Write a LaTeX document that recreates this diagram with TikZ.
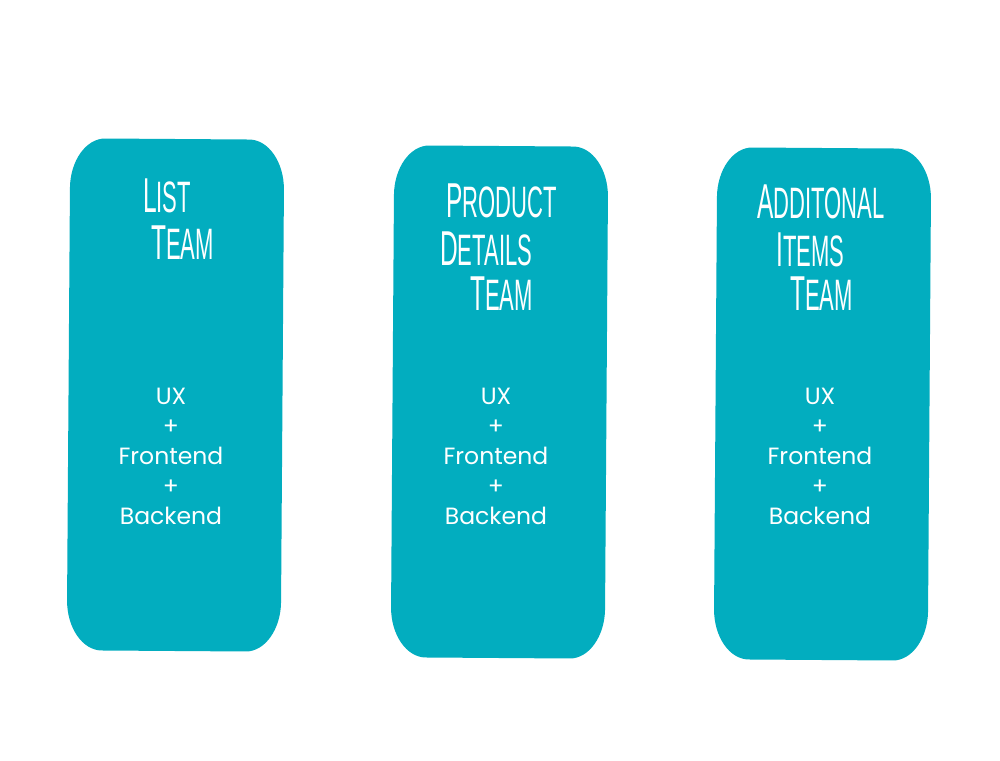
\documentclass[tikz,border=0pt]{standalone}
\usepackage{fontspec}
\setmainfont{Poppins}
\newfontfamily\handfont[FakeStretch=0.5]{Liberation Sans}
\definecolor{teal}{RGB}{2,173,191}
\newcommand\hsc[2]{{\handfont\fontsize{49}{49}\selectfont #1\fontsize{44}{44}\selectfont #2}}
\tikzset{
  boxfill/.style={fill=teal,draw=none},
  title/.style={anchor=base west,inner sep=0pt,text=white},
  body/.style={anchor=base,inner sep=0pt,text=white,font=\fontsize{23.5}{23.5}\selectfont}
}
\newcommand\teambox[2]{%
  \begin{scope}[shift={(#1,#2)},rotate=-0.4]
    \fill[teal] (-72,-256) .. controls (-52.75,-256) .. (72,-256)
      .. controls (91.25,-256) and (107,-233.5) .. (107,-206)
      -- (107,206) .. controls (107,233.5) and (91.25,256) .. (72,256)
      -- (-72,256) .. controls (-91.25,256) and (-107,233.5) .. (-107,206)
      -- (-107,-206) .. controls (-107,-233.5) and (-91.25,-256) .. (-72,-256) -- cycle;
  \end{scope}}
\begin{document}
\begin{tikzpicture}[x=1pt,y=-1pt]
\useasboundingbox[fill=white] (0,0) rectangle (1000,760);
\teambox{175.5}{395}
\teambox{499.5}{402}
\teambox{822.5}{404}
% titles
\node[title] (t1a) at (143,212) {\hsc{L}{IST}};
\node[title] (t1b) at (151,259) {\hsc{T}{EAM}};
\node[title] (t2a) at (446,217) {\hsc{P}{RODUCT}};
\node[title] (t2b) at (440,265) {\hsc{D}{ETAILS}};
\node[title] (t2c) at (470,310) {\hsc{T}{EAM}};
\node[title] (t3a) at (757,218) {\hsc{A}{DDITONAL}};
\node[title] (t3b) at (776,266) {\hsc{I}{TEMS}};
\node[title] (t3c) at (790,310) {\hsc{T}{EAM}};
% bodies
\foreach \n/\cx in {1/171,2/496,3/820}{
  \node[body] (ux\n) at (\cx,404) {UX};
  \node[body] (pa\n) at (\cx,434) {+};
  \node[body] (fe\n) at (\cx,464) {Frontend};
  \node[body] (pb\n) at (\cx,494) {+};
  \node[body] (be\n) at (\cx,524) {Backend};
}
\end{tikzpicture}
\end{document}
